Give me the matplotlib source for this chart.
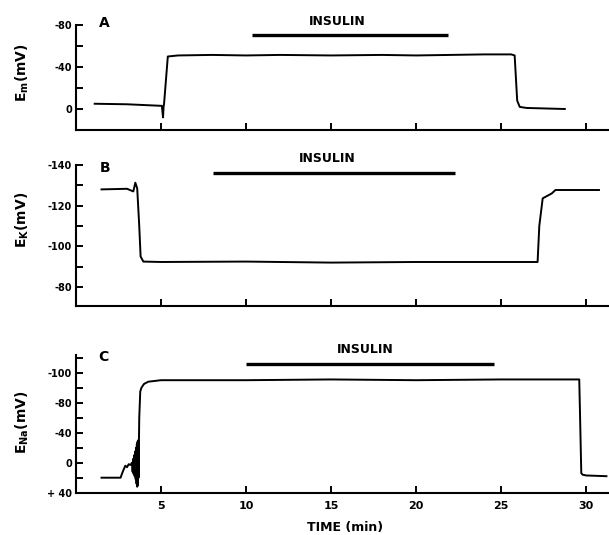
import matplotlib
matplotlib.use("Agg")
import matplotlib.pyplot as plt

# panel A : membrane potential
t_a = [1.1, 3.0, 5.05, 5.12, 5.15, 5.18, 5.4, 6.0, 8, 10, 12, 15, 18, 20, 22, 24, 25.6, 25.8, 25.95, 26.1, 26.5, 28.75]
em = [-5, -4.5, -3, 8, -2, -5, -50, -51, -51.5, -51, -51.5, -51, -51.5, -51, -51.5, -52, -52, -51, -8, -2, -1, 0]

# panel B : E_K
t_b = [1.5, 3.0, 3.37, 3.49, 3.6, 3.72, 3.8, 3.96, 5, 10, 15, 20, 25, 27.15, 27.25, 27.45, 27.98, 28.2, 30.76]
ek = [-128, -128.3, -127, -131.3, -128.5, -110, -95, -92.5, -92.3, -92.5, -92, -92.3, -92.3, -92.3, -110, -123.6, -126, -127.7, -127.7]

# panel C : E_Na
t_c = [1.5, 2.62, 2.75, 2.9, 3.0, 3.1, 3.2, 3.3, 3.33, 3.36, 3.39, 3.42, 3.45, 3.48, 3.51, 3.54, 3.56, 3.58,
       3.6, 3.62, 3.64, 3.66, 3.68, 3.7, 3.72, 3.78, 3.85, 4.0, 4.25, 5, 10, 15, 20, 25, 29.6, 29.65, 29.72, 29.8, 30, 31.2]
ena = [20, 20, 12, 4, 6, 2, 3, 0, 12, -5, 15, -10, 18, -15, 22, -20, 28, -25,
       32, -28, 30, -30, 20, -25, -60, -95, -100, -105, -108, -110, -110, -111, -110, -111, -111, -60, 14, 16, 17, 18]

# insulin bars (start, end)
ins_a = (10.33, 21.88)
ins_b = (8.06, 22.3)
ins_c = (10.0, 24.6)

xticks = [5, 10, 15, 20, 25, 30]

W, H = 609, 535
fig = plt.figure(figsize=(W / 100, H / 100), dpi=100)

def rect(top, bottom):
    return [76 / W, 1 - bottom / H, 533 / W, (bottom - top) / H]

axA = fig.add_axes(rect(25, 130))
axB = fig.add_axes(rect(165, 305.7))
axC = fig.add_axes(rect(355, 492.7))

lw = 1.4
axA.plot(t_a, em, color="black", lw=lw)
axB.plot(t_b, ek, color="black", lw=lw)
axC.plot(t_c, ena, color="black", lw=lw)

axA.set_ylim(20, -80)
axB.set_ylim(-70.8, -140)
axC.set_ylim(40, -143.6)

axA.set_yticks([-80, -60, -40, -20, 0])
axA.set_yticklabels(["-80", "", "-40", "", "0"])
axB.set_yticks([-140, -130, -120, -110, -100, -90, -80])
axB.set_yticklabels(["-140", "", "-120", "", "-100", "", "-80"])
axC.set_yticks([-140, -120, -100, -80, -60, -40, -20, 0, 20, 40])
axC.set_yticklabels(["", "-100", "", "-80", "", "-40", "", "0", "", "+ 40"])

for ax in (axA, axB, axC):
    ax.set_xlim(0, 31.35)
    ax.set_xticks(xticks)
    for s in ("top", "right"):
        ax.spines[s].set_visible(False)
    for s in ("left", "bottom"):
        ax.spines[s].set_linewidth(1.5)
    ax.tick_params(direction="in", length=5, width=1.4, labelsize=7, pad=3)
    ax.tick_params(axis="y", pad=3)
    for lab in ax.get_yticklabels() + ax.get_xticklabels():
        lab.set_fontweight("bold")

axA.set_xticklabels([])
axB.set_xticklabels([])
axC.tick_params(axis="x", labelsize=8, pad=6)

# insulin bars and labels
bars = [(axA, ins_a, -70.5, -83.8, 15.38),
        (axB, ins_b, -135.9, -143.4, 14.79),
        (axC, ins_c, -131.2, -150.3, 17.0)]
for ax, (x0, x1), yb, yt, xt in bars:
    ax.plot([x0, x1], [yb, yb], color="black", lw=2.4, clip_on=False, solid_capstyle="butt")
    ax.text(xt, yt, "INSULIN", ha="center", va="center", fontsize=9, fontweight="bold", clip_on=False)

# panel letters
fig.text(104 / W, 1 - 23 / H, "A", ha="center", va="center", fontsize=10, fontweight="bold")
fig.text(105 / W, 1 - 168 / H, "B", ha="center", va="center", fontsize=10, fontweight="bold")
fig.text(103 / W, 1 - 357 / H, "C", ha="center", va="center", fontsize=10, fontweight="bold")

# y labels
fig.text(22 / W, 1 - 73 / H, r"E$_{\mathbf{m}}$(mV)", rotation=90, ha="center", va="center", fontsize=10, fontweight="bold")
fig.text(22 / W, 1 - 220 / H, r"E$_{\mathbf{K}}$(mV)", rotation=90, ha="center", va="center", fontsize=10, fontweight="bold")
fig.text(22 / W, 1 - 422 / H, r"E$_{\mathbf{Na}}$(mV)", rotation=90, ha="center", va="center", fontsize=10, fontweight="bold")

fig.text(345 / W, 1 - 528 / H, "TIME (min)", ha="center", va="center", fontsize=9, fontweight="bold")

fig.savefig("out.png", dpi=100)
